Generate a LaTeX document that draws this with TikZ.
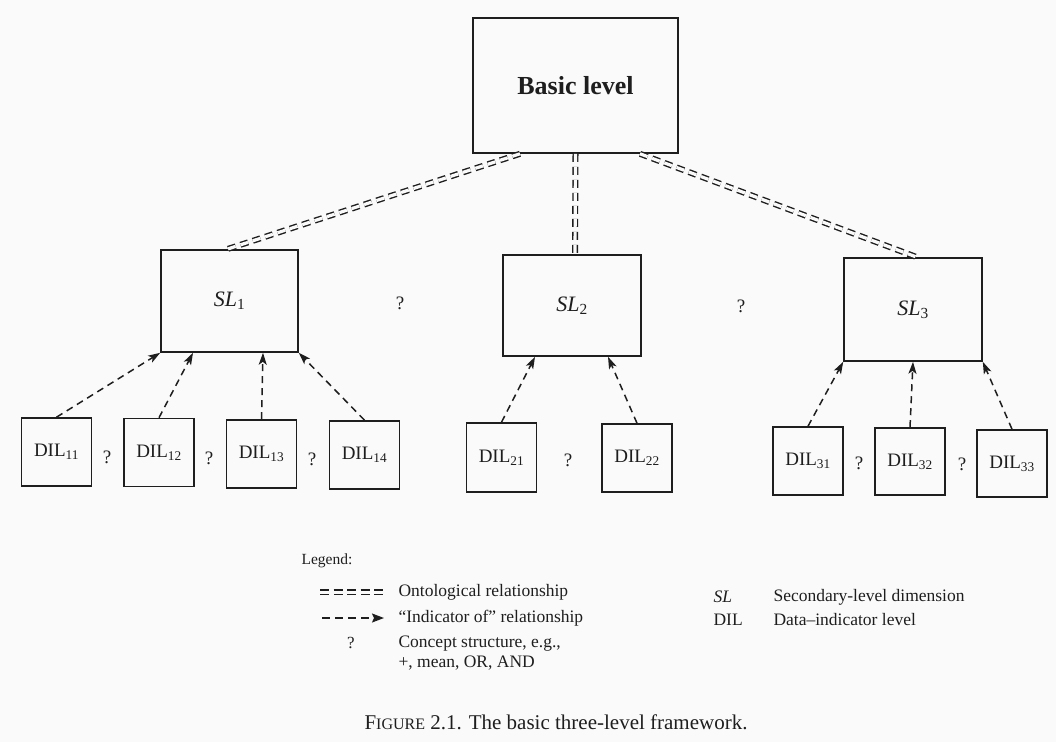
\documentclass[tikz,border=0pt]{standalone}
\usepackage{fontspec}
\setmainfont{Liberation Serif}
\usetikzlibrary{arrows.meta,calc}
\definecolor{pagebg}{RGB}{250,250,250}
\definecolor{ink}{RGB}{30,30,30}
\tikzset{
  box/.style={draw=ink, line width=1.6pt, inner sep=0pt, text=ink},
  basicbox/.style={box, minimum width=205pt, minimum height=135pt, font=\fontsize{26}{30}\selectfont\bfseries},
  slbox/.style={box, minimum width=138pt, minimum height=102pt, font=\fontsize{22}{24}\selectfont},
  dilbox/.style={box, minimum width=70pt, minimum height=68pt, font=\fontsize{19}{21}\selectfont},
  onto/.style={draw=ink, line width=1.4pt, double=pagebg, double distance=3.2pt, dash pattern=on 8pt off 5pt},
  indic/.style={draw=ink, line width=1.5pt, dash pattern=on 7pt off 5pt, -{Stealth[length=12pt,width=8pt,inset=3pt]}},
  qm/.style={text=ink, font=\fontsize{19}{22}\selectfont},
  legtext/.style={text=ink, anchor=west, font=\fontsize{17.5}{20}\selectfont},
}
\begin{document}
\begin{tikzpicture}[x=1pt,y=-1pt]
\fill[pagebg] (0,0) rectangle (1056,742);
\useasboundingbox (0,0) rectangle (1056,742);

% nodes
\node[basicbox] (basic) at (575.5,85.5) {Basic level};
\node[slbox, minimum width=137pt] (sl1) at (229.5,301) {\textit{SL}\textsubscript{1}};
\node[slbox, minimum height=101pt] (sl2) at (572,305.5) {\textit{SL}\textsubscript{2}};
\node[slbox, minimum height=103pt] (sl3) at (913,309.5) {\textit{SL}\textsubscript{3}};

\node[dilbox] (d11) at (56.5,452) {DIL\textsubscript{11}};
\node[dilbox] (d12) at (159,452.5) {DIL\textsubscript{12}};
\node[dilbox] (d13) at (261.5,454) {DIL\textsubscript{13}};
\node[dilbox] (d14) at (364.5,455) {DIL\textsubscript{14}};
\node[dilbox, minimum height=69pt] (d21) at (501.5,457.5) {DIL\textsubscript{21}};
\node[dilbox] (d22) at (637,458) {DIL\textsubscript{22}};
\node[dilbox] (d31) at (808,461) {DIL\textsubscript{31}};
\node[dilbox, minimum height=67pt] (d32) at (910,461.5) {DIL\textsubscript{32}};
\node[dilbox, minimum height=67pt] (d33) at (1012,463.5) {DIL\textsubscript{33}};

% concept-structure marks
\node[qm] (q1) at (400,303) {?};
\node[qm] (q2) at (741,306) {?};
\node[qm] (q11) at (107,457) {?};
\node[qm] (q12) at (209,458) {?};
\node[qm] (q13) at (312,459) {?};
\node[qm] (q21) at (568,460) {?};
\node[qm] (q31) at (859,463) {?};
\node[qm] (q32) at (962,464) {?};

% ontological relationships
\draw[onto] ([xshift=-55.5pt]basic.south) -- ([xshift=-2.5pt]sl1.north);
\draw[onto] (basic.south) -- ([xshift=3pt]sl2.north);
\draw[onto] ([xshift=64.5pt]basic.south) -- ([xshift=4pt]sl3.north);

% indicator-of relationships
\draw[indic] (d11.north) -- (sl1.south west);
\draw[indic] (d12.north) -- ([xshift=-36.5pt]sl1.south);
\draw[indic] (d13.north) -- ([xshift=33.5pt]sl1.south);
\draw[indic] (d14.north) -- (sl1.south east);
\draw[indic] (d21.north) -- ([xshift=-37pt]sl2.south);
\draw[indic] (d22.north) -- ([xshift=36pt]sl2.south);
\draw[indic] (d31.north) -- (sl3.south west);
\draw[indic] (d32.north) -- (sl3.south);
\draw[indic] (d33.north) -- (sl3.south east);

% legend
\node[text=ink, anchor=west, font=\fontsize{15.5}{18}\selectfont] (leg) at (298,561) {Legend:};
\coordinate (o1) at (320,592);
\coordinate (o2) at (386,592);
\draw[onto, line width=1.2pt, double distance=3pt, dash pattern=on 9pt off 4.5pt] (o1) -- (o2);
\node[legtext] (ot) at (395,592) {Ontological relationship};
\coordinate (i1) at (322,618);
\coordinate (i2) at (384,618);
\draw[indic, line width=1.3pt, dash pattern=on 8pt off 5pt, -{Stealth[length=12pt,width=9pt,inset=2pt]}] (i1) -- (i2);
\node[legtext] (it) at (395,618) {“Indicator of” relationship};
\node[qm, font=\fontsize{17}{20}\selectfont] (qleg) at (351,643) {?};
\node[legtext, align=left] (ct) at (395,653) {Concept structure, e.g.,\\+, mean, OR, AND};

\node[legtext, font=\fontsize{17.5}{21}\selectfont\itshape] (slk) at (710,597) {SL};
\node[legtext] (slv) at (770,597) {Secondary-level dimension};
\node[legtext] (dilk) at (710,620) {DIL};
\node[legtext] (dilv) at (770,620) {Data–indicator level};

% caption
\node[text=ink, font=\fontsize{21}{24}\selectfont] (cap) at (556,722)
  {F{\fontsize{16}{20}\selectfont IGURE} 2.1. The basic three-level framework.};
\end{tikzpicture}
\end{document}
